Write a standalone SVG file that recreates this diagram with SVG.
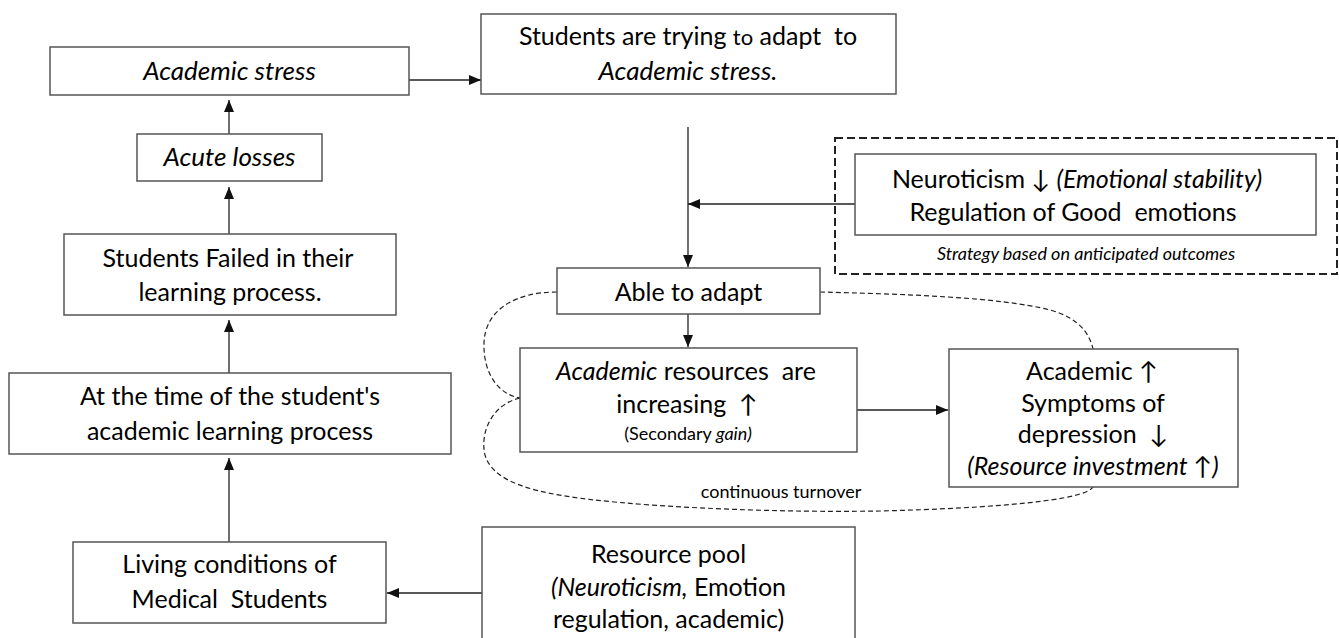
<svg xmlns="http://www.w3.org/2000/svg" width="1339" height="638" viewBox="0 0 1339 638" xml:space="preserve">
<style>
.box { fill: #fff; stroke: #555; stroke-width: 1.5; }
.t { font-family: Lato, "Liberation Sans", sans-serif; font-size: 25px; fill: #000; text-anchor: middle; white-space: pre; }
.i { font-style: italic; }
.bi { font-size: 26px; }
.s { font-size: 18px; }
.conn { stroke: #222; stroke-width: 1.3; fill: none; }
.dash { stroke: #222; stroke-width: 1.2; fill: none; stroke-dasharray: 5 3; }
.dashbox { fill: none; stroke: #222; stroke-width: 2; stroke-dasharray: 8 4; }
</style>
<defs>
<marker id="ah" markerWidth="12" markerHeight="10" refX="12" refY="5" orient="auto" markerUnits="userSpaceOnUse">
<path d="M0,0 L12,5 L0,10 z" fill="#111"/>
</marker>
</defs>
<rect width="1339" height="638" fill="#fff"/>

<g id="strategy-group">
<rect class="dashbox" x="835" y="138" width="502" height="136"/>
<text class="t i s" x="1086" y="260">Strategy based on anticipated outcomes</text>
</g>

<g id="connectors">
<line class="conn" x1="409" y1="80" x2="481" y2="80" marker-end="url(#ah)"/>
<line class="conn" x1="229" y1="134" x2="229" y2="100" marker-end="url(#ah)"/>
<line class="conn" x1="229" y1="234" x2="229" y2="187" marker-end="url(#ah)"/>
<line class="conn" x1="229" y1="373" x2="229" y2="320" marker-end="url(#ah)"/>
<line class="conn" x1="229" y1="542" x2="229" y2="458" marker-end="url(#ah)"/>
<line class="conn" x1="482" y1="593" x2="387" y2="593" marker-end="url(#ah)"/>
<line class="conn" x1="688" y1="127" x2="688" y2="267" marker-end="url(#ah)"/>
<line class="conn" x1="855" y1="204" x2="688" y2="204" marker-end="url(#ah)"/>
<line class="conn" x1="688" y1="314" x2="688" y2="347" marker-end="url(#ah)"/>
<line class="conn" x1="857" y1="410" x2="948" y2="410" marker-end="url(#ah)"/>
<path class="dash" d="M557,292 C515,292 485,310 484,343 C483,375 500,395 520,398"/>
<path class="dash" d="M520,398 C490,405 480,435 485,455 C495,490 560,498 650,505 C740,511 820,512 880,511 C1000,508 1085,500 1093,487"/>
<path class="dash" d="M820,292 C900,294 1000,297 1050,310 C1080,318 1090,335 1093,349"/>
<text class="t s" x="781" y="498">continuous turnover</text>
</g>

<g id="academic-stress">
<rect class="box" x="50" y="47" width="359" height="48"/>
<text class="t i bi" x="229.5" y="80">Academic stress</text>
</g>

<g id="students-trying">
<rect class="box" x="481" y="14" width="415" height="80"/>
<text class="t" x="688" y="45">Students are trying <tspan font-size="22">to</tspan> adapt  to</text>
<text class="t i bi" x="688" y="80">Academic stress.</text>
</g>

<g id="acute-losses">
<rect class="box" x="137" y="134" width="185" height="47"/>
<text class="t i bi" x="229.5" y="166">Acute losses</text>
</g>

<g id="students-failed">
<rect class="box" x="64" y="234" width="332" height="81"/>
<text class="t" x="228" y="267">Students Failed in their</text>
<text class="t" x="230" y="301">learning process.</text>
</g>

<g id="time-of-learning">
<rect class="box" x="9" y="373" width="442" height="81"/>
<text class="t" x="230" y="405">At the time of the student's</text>
<text class="t" x="230" y="440">academic learning process</text>
</g>

<g id="living-conditions">
<rect class="box" x="73" y="542" width="313" height="81"/>
<text class="t" x="229.5" y="573">Living conditions of</text>
<text class="t" x="229.5" y="608">Medical  Students</text>
</g>

<g id="resource-pool">
<rect class="box" x="482" y="527" width="373" height="115"/>
<text class="t" x="668.5" y="563">Resource pool</text>
<text class="t" x="668.5" y="596"><tspan class="i">(Neuroticism,</tspan> Emotion</text>
<text class="t" x="668.5" y="628">regulation, academic)</text>
</g>

<g id="neuroticism">
<rect class="box" x="855" y="154" width="461" height="81"/>
<text class="t" x="1077" y="188">Neuroticism ↓ <tspan class="i">(Emotional stability)</tspan></text>
<text class="t" x="1073" y="221">Regulation of Good  emotions</text>
</g>

<g id="able-to-adapt">
<rect class="box" x="557" y="268" width="263" height="46"/>
<text class="t" x="688.5" y="301">Able to adapt</text>
</g>

<g id="academic-resources">
<rect class="box" x="520" y="348" width="337" height="104"/>
<text class="t" x="686" y="380"><tspan class="i">Academic</tspan> resources  are</text>
<text class="t" x="687" y="413">increasing  ↑</text>
<text class="t s" x="688" y="440">(Secondary <tspan class="i">gain)</tspan></text>
</g>

<g id="academic-depression">
<rect class="box" x="949" y="349" width="289" height="138"/>
<text class="t" x="1092" y="380">Academic ↑</text>
<text class="t" x="1093" y="412">Symptoms of</text>
<text class="t" x="1093" y="443">depression  ↓</text>
<text class="t i" x="1093" y="475" font-size="16">(Resource investment ↑)</text>
</g>
</svg>
